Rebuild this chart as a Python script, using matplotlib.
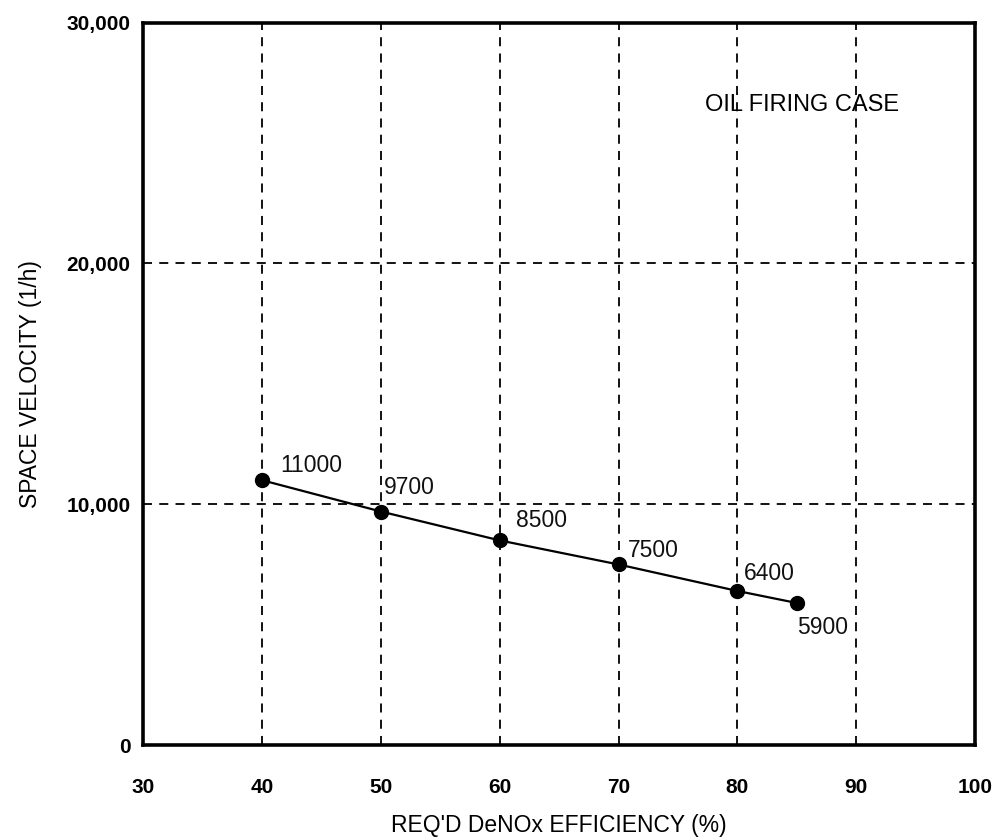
import matplotlib
matplotlib.use("Agg")
import matplotlib.pyplot as plt

plt.rcParams['font.family'] = ['Liberation Sans', 'DejaVu Sans']

# data
efficiency = [40, 50, 60, 70, 80, 85]
velocity = [11000, 9700, 8500, 7500, 6400, 5900]
point_labels = ["11000", "9700", "8500", "7500", "6400", "5900"]
label_offsets = [(13, 2), (2, 9), (12, 6), (7, 2), (5, 4), (0, -26)]

x_ticks = [30, 40, 50, 60, 70, 80, 90, 100]
y_ticks = [0, 10000, 20000, 30000]
y_tick_labels = ["0", "10,000", "20,000", "30,000"]

fig = plt.figure(figsize=(9.94, 8.4), dpi=100)
ax = fig.add_axes([0.144, 0.113, 0.837, 0.860])

ax.plot(efficiency, velocity, color='black', linewidth=1.6, marker='o',
        markersize=10, zorder=3)
for x, y, lab, off in zip(efficiency, velocity, point_labels, label_offsets):
    ax.annotate(lab, (x, y), xytext=off, textcoords='offset points',
                fontsize=16.5, ha='left', va='bottom', color='#111111')

ax.set_xlim(30, 100)
ax.set_ylim(0, 30000)
ax.set_xticks(x_ticks)
ax.set_yticks(y_ticks)
ax.set_yticklabels(y_tick_labels)
ax.tick_params(length=0, labelsize=15)
ax.tick_params(axis='x', pad=24)
ax.tick_params(axis='y', pad=9)
for lab in ax.get_xticklabels() + ax.get_yticklabels():
    lab.set_fontweight('bold')

ax.grid(True, color='black', linestyle=(0, (5, 4)), linewidth=1.3)
for sp in ax.spines.values():
    sp.set_linewidth(2.6)

ax.text(85.4, 26600, "OIL FIRING CASE", fontsize=17, ha='center', va='center')

ax.set_xlabel("REQ'D DeNOx EFFICIENCY (%)", fontsize=16.5, labelpad=12)
ax.set_ylabel("SPACE VELOCITY (1/h)", fontsize=16.5, labelpad=18)

fig.savefig("out.png", dpi=100)
